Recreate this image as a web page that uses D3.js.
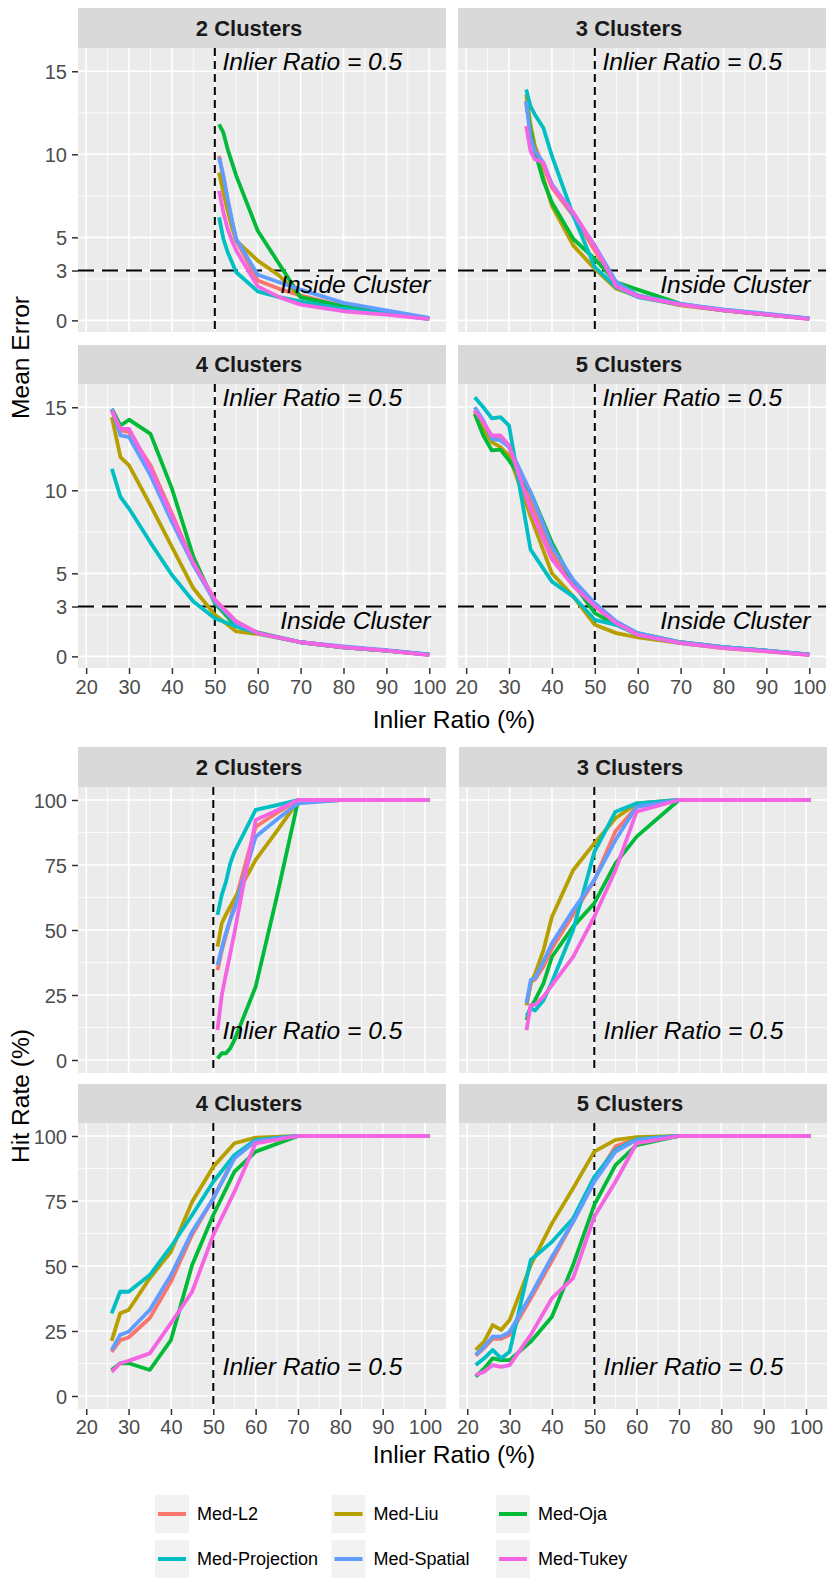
<!DOCTYPE html>
<html><head><meta charset="utf-8">
<script src="https://cdn.jsdelivr.net/npm/d3@7/dist/d3.min.js"></script>
<style>
body{margin:0;background:#fff}
svg{display:block}
text{font-family:"Liberation Sans",Arial,Helvetica,sans-serif}
</style>
</head><body>
<svg id="chart" width="830" height="1583"></svg>
<script>
// ---------------- DATA ----------------
const methods = ["Med-L2","Med-Liu","Med-Oja","Med-Projection","Med-Spatial","Med-Tukey"];
const methodColors = ["#F8766D","#B79F00","#00BA38","#00BFC4","#619CFF","#F564E3"];
const clusterLabels = ["2 Clusters","3 Clusters","4 Clusters","5 Clusters"];
const xTickValues = [20,30,40,50,60,70,80,90,100];
const xMinorValues = [25,35,45,55,65,75,85,95];
const errTickValues = [0,3,5,10,15];
const errMinorValues = [2.5,7.5,12.5];
const hitTickValues = [0,25,50,75,100];
const hitMinorValues = [12.5,37.5,62.5,87.5];

// inlier ratios (%) per number of clusters
const ratio2 = [51,52,53,54,55,60,65,70,80,90,100];
const ratio3 = [34,35,36,38,40,45,50,55,60,70,80,90,100];
const ratio4 = [26,28,30,35,40,45,50,55,60,70,80,90,100];
const ratio5 = [22,24,26,28,30,35,40,45,50,55,60,70,80,90,100];
// hit-rate runs (last point recorded at 101)
const hitRatio2 = [51,52,53,54,55,60,65,70,80,90,101];
const hitRatio3 = [34,35,36,38,40,45,50,55,60,70,80,90,101];
const hitRatio4 = [26,28,30,35,40,45,50,55,60,70,80,90,101];
const hitRatio5 = [22,24,26,28,30,35,40,45,50,55,60,70,80,90,101];

// Mean error
const meanErr2 = {
  "Med-L2":        [9.9,8.6,7.2,6.0,4.8,2.4,1.9,1.5,0.85,0.5,0.12],
  "Med-Liu":       [8.9,7.7,6.6,5.6,4.8,3.6,2.7,1.4,0.8,0.45,0.1],
  "Med-Oja":       [11.8,11.3,10.3,9.5,8.7,5.4,3.4,1.4,0.85,0.5,0.1],
  "Med-Projection":[6.2,4.9,4.1,3.5,2.9,1.75,1.4,1.15,0.7,0.4,0.08],
  "Med-Spatial":   [9.8,8.7,7.3,6.0,4.9,2.75,2.3,1.85,1.05,0.6,0.15],
  "Med-Tukey":     [7.8,6.5,5.5,4.8,4.2,2.05,1.4,0.95,0.55,0.35,0.08]
};
const meanErr3 = {
  "Med-L2":        [13.0,11.5,10.5,9.3,8.0,6.3,4.2,2.1,1.5,0.95,0.6,0.35,0.1],
  "Med-Liu":       [13.6,11.8,10.5,8.6,6.9,4.5,3.1,1.9,1.45,0.9,0.6,0.35,0.1],
  "Med-Oja":       [13.2,11.4,10.2,8.4,7.1,4.9,3.7,2.3,1.85,1.0,0.6,0.35,0.1],
  "Med-Projection":[13.9,12.9,12.4,11.6,9.9,6.3,3.2,2.0,1.4,0.95,0.65,0.38,0.1],
  "Med-Spatial":   [13.2,11.0,10.2,9.5,8.2,6.4,4.5,2.3,1.5,1.0,0.65,0.4,0.12],
  "Med-Tukey":     [11.7,10.2,9.7,9.5,8.1,6.5,4.45,2.05,1.45,0.95,0.6,0.35,0.08]
};
const meanErr4 = {
  "Med-L2":        [14.8,13.6,13.5,11.5,8.6,5.6,3.4,2.1,1.4,0.85,0.55,0.35,0.1],
  "Med-Liu":       [14.4,12.0,11.5,9.1,6.6,4.1,2.5,1.5,1.35,0.85,0.55,0.35,0.1],
  "Med-Oja":       [14.9,13.9,14.25,13.4,10.1,6.0,3.2,1.8,1.45,0.85,0.55,0.35,0.1],
  "Med-Projection":[11.3,9.6,8.9,6.85,4.9,3.3,2.3,1.8,1.4,0.85,0.55,0.35,0.1],
  "Med-Spatial":   [14.9,13.3,13.2,10.9,8.1,5.5,3.3,2.0,1.4,0.85,0.6,0.38,0.12],
  "Med-Tukey":     [14.8,13.7,13.7,11.3,8.45,5.64,3.42,2.1,1.4,0.85,0.55,0.35,0.08]
};
const meanErr5 = {
  "Med-L2":        [14.8,14.0,13.2,13.2,12.6,9.3,6.2,4.4,3.0,2.0,1.35,0.85,0.55,0.35,0.1],
  "Med-Liu":       [14.8,13.7,12.9,12.6,12.1,8.45,5.0,3.6,1.9,1.4,1.15,0.8,0.5,0.3,0.1],
  "Med-Oja":       [14.6,13.3,12.4,12.45,11.8,9.9,6.85,4.4,2.6,1.9,1.4,0.85,0.55,0.35,0.1],
  "Med-Projection":[15.6,15.0,14.33,14.4,13.9,6.44,4.5,3.6,2.2,1.9,1.3,0.8,0.55,0.35,0.1],
  "Med-Spatial":   [15.0,14.2,13.1,13.0,12.6,9.9,6.6,4.6,3.2,2.1,1.4,0.85,0.55,0.35,0.12],
  "Med-Tukey":     [14.8,14.1,13.3,13.3,12.7,8.86,5.84,4.23,3.02,2.0,1.3,0.8,0.5,0.3,0.08]
};

// Hit rate (%)
const hitRate2 = {
  "Med-L2":        [34.6,42,48,54,60,89.7,95,100,100,100,100],
  "Med-Liu":       [43.6,52.6,56,59,62,77,88,99.5,100,100,100],
  "Med-Oja":       [0.6,2.6,2.6,4.5,7.7,28.2,62.8,99.5,100,100,100],
  "Med-Projection":[55.8,63.5,68.6,75.6,80.1,96.2,98,100,100,100,100],
  "Med-Spatial":   [36.5,43,49,54,58,85.9,92.5,98.7,100,100,100],
  "Med-Tukey":     [11.5,25,33,41,49,92.3,96,100,100,100,100]
};
const hitRate3 = {
  "Med-L2":        [21,30,31,36,43,56,69,88,97.5,100,100,100,100],
  "Med-Liu":       [21.2,29.5,33,42.3,55.1,73,83.3,93,98.7,100,100,100,100],
  "Med-Oja":       [15.4,20.5,23,29.5,39.7,51.3,60.3,75.6,85.9,100,100,100,100],
  "Med-Projection":[17,20,19,23,30,50,80,95.5,98.7,100,100,100,100],
  "Med-Spatial":   [21.9,30.8,31.5,38,44.9,57.7,69.2,84.6,97.4,100,100,100,100],
  "Med-Tukey":     [11.5,21.2,21.2,24.4,28.8,39.7,55.1,73,95.5,100,100,100,100]
};
const hitRate4 = {
  "Med-L2":        [17,21.5,22.5,30,44,62,76,92,98,100,100,100,100],
  "Med-Liu":       [21.2,31.8,33.1,45.3,55.5,74.7,88.2,97.2,99.4,100,100,100,100],
  "Med-Oja":       [10,12.6,12.6,10,21.5,50.4,69.6,86.3,94,100,100,100,100],
  "Med-Projection":[31.8,40.1,40.1,46.5,57.4,69.6,82.4,92.7,98.5,100,100,100,100],
  "Med-Spatial":   [17.7,23.5,24.7,33.1,46.5,63.2,76,91.4,98,100,100,100,100],
  "Med-Tukey":     [9.3,12.6,13.5,16.4,28,40.1,61.9,78.6,97.2,100,100,100,100]
};
const hitRate5 = {
  "Med-L2":        [15.5,18.5,22,22,23.5,37.5,52,67,83,96,99,100,100,100,100],
  "Med-Liu":       [17.7,20.9,27.3,25.4,29.2,50.4,66.4,79.9,94,98.5,99.6,100,100,100,100],
  "Med-Oja":       [7.4,10.6,14.5,13.8,13.8,20.9,30.5,50.4,73.5,88.8,96.5,100,100,100,100],
  "Med-Projection":[11.9,14.5,17.7,14.5,17,52.3,59.3,68.3,84.3,94.6,98.8,100,100,100,100],
  "Med-Spatial":   [15.8,19,22.8,22.8,24.7,38.8,53.6,67,82.4,94,98.5,100,100,100,100],
  "Med-Tukey":     [8.1,9.3,11.9,11.2,11.9,23.5,37.6,45.3,69,82.4,97.2,100,100,100,100]
};

// ---------------- LAYOUT ----------------
const svg = d3.select("#chart");
const font = '"Liberation Sans",Arial,Helvetica,sans-serif';
const colorScale = d3.scaleOrdinal().domain(methods).range(methodColors);

const sections = [
  {
    cols: [[78,446],[458,826]],
    rows: [{strip:[8,48], panel:[48,332]}, {strip:[345,384], panel:[384,668]}],
    xDomain: [18.1, 103.9],
    yDomain: [-0.7, 16.4],
    yTicks: errTickValues, yMinor: errMinorValues,
    xs: [ratio2, ratio3, ratio4, ratio5],
    ys: [meanErr2, meanErr3, meanErr4, meanErr5],
    hline: 3,
    vlineLabelY: 15.6, vlineLabelX: 51.8,
    yTitle: "Mean Error", yTitleCenter: 357.5,
    xTitleBaseline: 727.5,
    tickBaseline: 26
  },
  {
    cols: [[78,446],[459,827]],
    rows: [{strip:[747,787], panel:[787,1073]}, {strip:[1084,1123], panel:[1123,1409]}],
    xDomain: [18.05, 104.95],
    yDomain: [-5, 105],
    yTicks: hitTickValues, yMinor: hitMinorValues,
    xs: [hitRatio2, hitRatio3, hitRatio4, hitRatio5],
    ys: [hitRate2, hitRate3, hitRate4, hitRate5],
    hline: null,
    vlineLabelY: 11.4, vlineLabelX: 52.2,
    yTitle: "Hit Rate (%)", yTitleCenter: 1096,
    xTitleBaseline: 1462.5,
    tickBaseline: 24.5
  }
];

sections.forEach(sec => {
  sec.rows.forEach((row, ri) => {
    sec.cols.forEach((col, ci) => {
      const k = ri*2 + ci;
      const x = d3.scaleLinear().domain(sec.xDomain).range(col);
      const y = d3.scaleLinear().domain(sec.yDomain).range([row.panel[1], row.panel[0]]);
      const g = svg.append("g");

      // panel background
      g.append("rect").attr("x", col[0]).attr("y", row.panel[0])
        .attr("width", col[1]-col[0]).attr("height", row.panel[1]-row.panel[0])
        .attr("fill", "#EBEBEB");
      // minor grid
      g.selectAll(".vmin").data(xMinorValues).join("line")
        .attr("x1", d=>x(d)).attr("x2", d=>x(d)).attr("y1", row.panel[0]).attr("y2", row.panel[1])
        .attr("stroke", "#fff").attr("stroke-width", 0.8);
      g.selectAll(".hmin").data(sec.yMinor).join("line")
        .attr("y1", d=>y(d)).attr("y2", d=>y(d)).attr("x1", col[0]).attr("x2", col[1])
        .attr("stroke", "#fff").attr("stroke-width", 0.8);
      // major grid
      g.selectAll(".vmaj").data(xTickValues).join("line")
        .attr("x1", d=>x(d)).attr("x2", d=>x(d)).attr("y1", row.panel[0]).attr("y2", row.panel[1])
        .attr("stroke", "#fff").attr("stroke-width", 1.6);
      g.selectAll(".hmaj").data(sec.yTicks).join("line")
        .attr("y1", d=>y(d)).attr("y2", d=>y(d)).attr("x1", col[0]).attr("x2", col[1])
        .attr("stroke", "#fff").attr("stroke-width", 1.6);

      // reference lines
      g.append("line").attr("x1", x(50)).attr("x2", x(50))
        .attr("y1", row.panel[0]).attr("y2", row.panel[1])
        .attr("stroke", "#000").attr("stroke-width", 2).attr("stroke-dasharray", "8,5");
      if (sec.hline !== null) {
        g.append("line").attr("y1", y(sec.hline)).attr("y2", y(sec.hline))
          .attr("x1", col[0]).attr("x2", col[1])
          .attr("stroke", "#000").attr("stroke-width", 2).attr("stroke-dasharray", "16,8");
      }

      // series
      const xs = sec.xs[k], ys = sec.ys[k];
      const line = d3.line().x(d=>x(d[0])).y(d=>y(d[1]));
      methods.forEach(m => {
        const pts = xs.map((xv, i) => [xv, ys[m][i]]);
        g.append("path").attr("d", line(pts)).attr("fill", "none")
          .attr("stroke", colorScale(m)).attr("stroke-width", 3.8)
          .attr("stroke-linejoin", "round").attr("stroke-linecap", "butt");
      });

      // annotations
      g.append("text").attr("x", x(sec.vlineLabelX)).attr("y", y(sec.vlineLabelY))
        .attr("dy", "0.36em").attr("font-size", 24.6).attr("font-style", "italic")
        .attr("fill", "#000").text("Inlier Ratio = 0.5");
      if (sec.hline !== null) {
        g.append("text").attr("x", x(100.3)).attr("y", y(2.2))
          .attr("dy", "0.36em").attr("text-anchor", "end").attr("font-size", 24.6)
          .attr("font-style", "italic").attr("fill", "#000").text("Inside Cluster");
      }

      // strip
      g.append("rect").attr("x", col[0]).attr("y", row.strip[0])
        .attr("width", col[1]-col[0]).attr("height", row.strip[1]-row.strip[0])
        .attr("fill", "#D9D9D9");
      g.append("text").attr("x", col[0] + 171).attr("y", (row.strip[0]+row.strip[1])/2)
        .attr("dy", "0.36em").attr("text-anchor", "middle")
        .attr("font-size", 22).attr("font-weight", "bold").attr("fill", "#1A1A1A")
        .text(clusterLabels[k]);

      // y axis (left column)
      if (ci === 0) {
        const ax = g.append("g").attr("transform", `translate(${col[0]},0)`)
          .call(d3.axisLeft(y).tickValues(sec.yTicks).tickSize(6).tickPadding(5).tickFormat(d3.format("d")));
        ax.select(".domain").remove();
        ax.selectAll(".tick line").attr("stroke", "#333").attr("stroke-width", 1.5);
        ax.selectAll(".tick text").attr("font-size", 20).attr("font-family", font)
          .attr("fill", "#4D4D4D").attr("dy", "0.36em");
      }
      // x axis (bottom row)
      if (ri === 1) {
        const ax = g.append("g").attr("transform", `translate(0,${row.panel[1]})`)
          .call(d3.axisBottom(x).tickValues(xTickValues).tickSize(6).tickPadding(0).tickFormat(d3.format("d")));
        ax.select(".domain").remove();
        ax.selectAll(".tick line").attr("stroke", "#333").attr("stroke-width", 1.5);
        ax.selectAll(".tick text").attr("font-size", 20).attr("font-family", font)
          .attr("fill", "#4D4D4D").attr("y", sec.tickBaseline).attr("dy", 0);
      }
    });
  });

  // axis titles
  svg.append("text").attr("x", 454).attr("y", sec.xTitleBaseline)
    .attr("text-anchor", "middle").attr("font-size", 24.6).attr("fill", "#000")
    .text("Inlier Ratio (%)");
  svg.append("text").attr("transform", `translate(28.5,${sec.yTitleCenter}) rotate(-90)`)
    .attr("text-anchor", "middle").attr("font-size", 24.6).attr("fill", "#000")
    .text(sec.yTitle);
});

// ---------------- LEGEND ----------------
const legendCols = [155, 331.5, 496];
const legendRows = [1495, 1540];
const legend = svg.append("g");
methods.forEach((m, i) => {
  const cx = legendCols[i % 3], ry = legendRows[Math.floor(i / 3)];
  legend.append("rect").attr("x", cx).attr("y", ry).attr("width", 34).attr("height", 38).attr("fill", "#F2F2F2");
  legend.append("line").attr("x1", cx+3).attr("x2", cx+31).attr("y1", ry+19).attr("y2", ry+19)
    .attr("stroke", colorScale(m)).attr("stroke-width", 4);
  legend.append("text").attr("x", cx+42).attr("y", ry+19).attr("dy", "0.36em")
    .attr("font-size", 18).attr("fill", "#000").text(m);
});
</script>
</body></html>
